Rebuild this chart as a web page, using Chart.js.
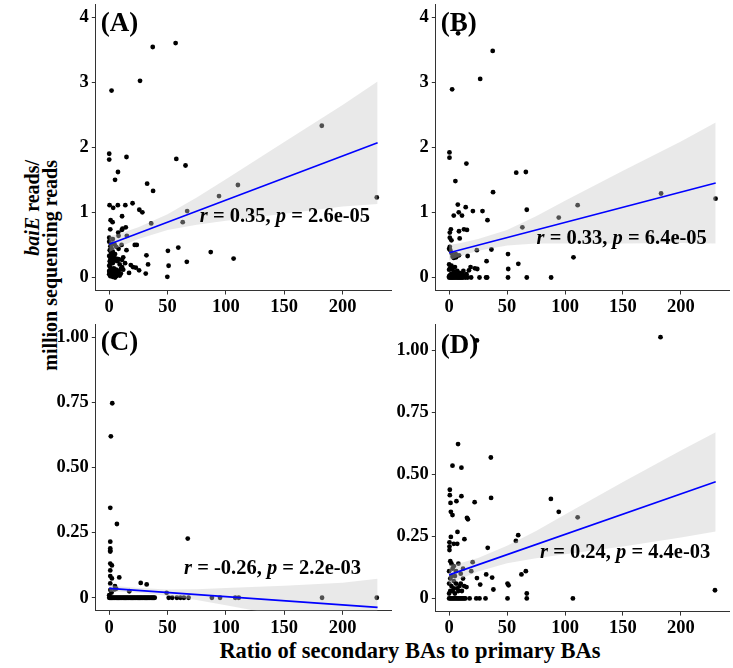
<!DOCTYPE html>
<html>
<head>
<meta charset="utf-8">
<script src="https://cdn.jsdelivr.net/npm/chart.js@4.4.0/dist/chart.umd.min.js"></script>
<style>
  html, body { margin: 0; padding: 0; background: #fff; overflow: hidden; }
  #wrap { position: relative; width: 733px; height: 668px; font-family: "Liberation Serif", "Times New Roman", serif; }
  canvas { position: absolute; }
  .ytitle { position: absolute; left: 23px; top: 420px; width: 260px; transform: rotate(-90deg); transform-origin: 0 0;
            text-align: right; font-weight: bold; font-size: 20px; line-height: 18px; white-space: nowrap; color: #000; }
  .xtitle { position: absolute; left: 110px; top: 638px; width: 600px; text-align: center; font-weight: bold;
            font-size: 22.5px; line-height: 26px; color: #000; }
</style>
</head>
<body>
<div id="wrap">
  <div class="ytitle"><i>baiE</i> reads/<br>million sequencing reads</div>
  <div class="xtitle">Ratio of secondary BAs to primary BAs</div>
  <canvas id="chartA" width="395" height="320" style="left:0;top:0"></canvas>
  <canvas id="chartB" width="338" height="320" style="left:395px;top:0"></canvas>
  <canvas id="chartC" width="395" height="348" style="left:0;top:320px"></canvas>
  <canvas id="chartD" width="338" height="348" style="left:395px;top:320px"></canvas>
</div>
<script>
// tick values and labels
const xTicks = [0, 50, 100, 150, 200];
const yTicksTop = [0, 1, 2, 3, 4];
const yLabelsTop = ['0', '1', '2', '3', '4'];
const yTicksBottom = [0, 0.25, 0.5, 0.75, 1];
const yLabelsBottom = ['0', '0.25', '0.50', '0.75', '1.00'];

// x positions where the confidence band edges were read
const bandX = [0, 10, 25, 50, 75, 100, 150, 200, 230];

// (A)
const pointsA = [
  [37.3, 3.54], [56.9, 3.60], [26.4, 3.02], [2.0, 2.87], [182.2, 2.33], [229.3, 1.23],
  [0, 1.90], [0, 1.81], [14.8, 1.85], [57.5, 1.82], [65.4, 1.72], [7.5, 1.62], [5.0, 1.50],
  [32.5, 1.44], [110.3, 1.42], [37.6, 1.33], [94.1, 1.25],
  [0.3, 1.11], [3.4, 1.07], [7.4, 1.11], [13.8, 1.11], [20, 1.14], [25.8, 1.04], [28.4, 1.00], [66.8, 1.02],
  [11, 0.94], [1.2, 0.88], [2.9, 0.85], [36, 0.83], [63, 0.85],
  [0.9, 0.74], [7.7, 0.69], [11.4, 0.75], [14.2, 0.77], [10.8, 0.73],
  [0, 0.61], [3.1, 0.59], [8, 0.64], [15.1, 0.64], [4.5, 0.51], [10.6, 0.50], [21.9, 0.50], [23.6, 0.50],
  [14.8, 0.42], [31.9, 0.34], [50.3, 0.41], [59.2, 0.46], [87, 0.39], [106.6, 0.29], [66.5, 0.24],
  [50.9, 0.18], [49.8, 0.01], [13.6, 0.22], [18.5, 0.19], [22.8, 0.15], [25.6, 0.11], [31.3, 0.06],
  [17, 0.07], [33.3, 0.20], [20.4, 0.16],
  [0, 0.55], [1, 0.48], [2, 0.45], [0.5, 0.42], [3, 0.52], [6, 0.47], [1.5, 0.38], [8, 0.44],
  [0, 0.33], [1, 0.30], [2, 0.28], [0.5, 0.25], [3, 0.22], [4, 0.31], [5, 0.26], [6, 0.29], [7, 0.25],
  [8, 0.28], [9, 0.20], [0, 0.18], [1, 0.15], [2, 0.12], [3, 0.10], [4, 0.14], [5, 0.08], [6, 0.12],
  [7, 0.05], [8, 0.10], [10, 0.13], [11, 0.27], [12, 0.31], [0, 0.05], [1, 0.02], [2, 0.04], [3, 0.01],
  [4, 0.03], [5, 0.0], [6, 0.02], [0, 0.10], [0.5, 0.08], [9, 0.03], [10, 0.06], [12, 0.12], [1, 0.21],
  [2, 0.36], [3, 0.40], [5, 0.36], [11, 0.16]
];
const fitA = [[0, 0.51], [230, 2.07]];
const upperA = [0.63, 0.68, 0.77, 0.97, 1.23, 1.51, 2.08, 2.65, 3.01];
const lowerA = [0.39, 0.48, 0.59, 0.73, 0.81, 0.87, 0.98, 1.09, 1.13];

// (B)
const pointsB = [
  [7.7, 3.75], [37.6, 3.48], [26.8, 3.05], [2.6, 2.89], [0.3, 1.92], [0.3, 1.84], [14.9, 1.75],
  [57.9, 1.61], [66.2, 1.62], [5.4, 1.48], [37.9, 1.31], [182.9, 1.29], [229.9, 1.21], [110.9, 1.11],
  [7.5, 1.12], [14.3, 1.08], [8.3, 1.00], [4.0, 0.95], [11.1, 0.95], [20.5, 1.02], [28.8, 1.02],
  [33.1, 0.88], [67, 1.04], [94.6, 0.92], [63.2, 0.77],
  [1.5, 0.74], [0.6, 0.69], [8.5, 0.71], [12.8, 0.74], [15.4, 0.73], [0.6, 0.61], [2, 0.57], [9.1, 0.60],
  [0.6, 0.47], [2.3, 0.37], [5.7, 0.36], [8.5, 0.34], [16, 0.33], [23.9, 0.42], [36.5, 0.43],
  [50.8, 0.36], [32.3, 0.25], [59.7, 0.21], [51, 0.13], [107.3, 0.31], [18.5, 0.16], [22.2, 0.14],
  [24.3, 0.13], [12.3, 0.10], [17.1, 0.11],
  [26.2, 0], [32.8, 0], [50.8, 0], [67, 0], [88, 0], [31.9, 0],
  [0, 0], [1, 0], [2, 0], [3, 0], [4, 0], [5, 0], [6, 0], [7, 0], [8, 0], [9, 0], [10, 0], [11, 0],
  [12, 0], [14, 0], [16, 0], [19, 0], [0, 0.02], [1, 0.04], [2, 0.06], [3, 0.03], [4, 0.08], [5, 0.05],
  [6, 0.02], [7, 0.10], [8, 0.04], [9, 0.07], [10, 0.03], [0, 0.12], [1, 0.15], [2, 0.18], [0, 0.20],
  [3, 0.13], [5, 0.16], [6, 0.09], [11, 0.06], [13, 0.03], [15, 0.05], [1, 0.42], [0, 0.44],
  [3, 0.32], [4, 0.30], [6, 0.31]
];
const fitB = [[0, 0.38], [230, 1.45]];
const upperB = [0.50, 0.53, 0.59, 0.73, 0.94, 1.18, 1.64, 2.09, 2.38];
const lowerB = [0.26, 0.33, 0.41, 0.49, 0.52, 0.52, 0.52, 0.53, 0.52];

// (C)
const pointsC = [
  [2.6, 0.746], [1.4, 0.619], [0.9, 0.345], [6.6, 0.283], [67.3, 0.227], [0.9, 0.215], [0.9, 0.189],
  [0.9, 0.181], [0.9, 0.177], [0.9, 0.131], [2.3, 0.124], [0.9, 0.105], [0.9, 0.083], [2.3, 0.074],
  [8.6, 0.078], [0.9, 0.055], [4.9, 0.045], [27, 0.057], [32.1, 0.051], [4.6, 0.032], [17.2, 0.025],
  [49.2, 0.019], [1, 0.03], [2, 0.02], [0, 0.01], [6, 0.035],
  [0, 0], [1, 0], [2, 0], [3, 0], [4, 0], [5, 0], [6, 0], [7, 0], [8, 0], [9, 0], [10, 0], [11, 0],
  [12, 0], [13, 0], [14, 0], [15, 0], [16, 0], [17, 0], [18, 0], [19, 0], [20, 0], [21, 0], [22, 0],
  [23, 0], [24, 0], [25, 0], [26, 0], [27, 0], [28, 0], [29, 0], [30, 0], [31, 0], [32, 0], [33, 0],
  [34, 0], [35, 0], [36, 0], [37, 0], [38, 0], [39, 0], [51, 0], [54, 0], [58, 0], [61, 0], [64, 0],
  [68, 0], [88, 0], [95, 0], [108, 0], [111, 0], [182.4, 0], [229.3, 0]
];
const fitC = [[0, 0.036], [230, -0.037]];
const upperC = [0.049, 0.043, 0.037, 0.032, 0.033, 0.037, 0.046, 0.058, 0.073];
const lowerC = [0.023, 0.023, 0.019, 0.008, -0.009, -0.029, -0.070, -0.112, -0.147];

// (D)
const pointsD = [
  [182.4, 1.053], [24, 1.04], [7.7, 0.622], [36, 0.568], [2.9, 0.535], [10.6, 0.527], [0.6, 0.438],
  [0.6, 0.416], [6.3, 0.392], [10.6, 0.412], [1.2, 0.385], [22, 0.388], [36.2, 0.405], [87.8, 0.401],
  [94.6, 0.349], [1.5, 0.349], [2.9, 0.336], [15.4, 0.325], [16.2, 0.319], [110.9, 0.327], [7.2, 0.268],
  [1.5, 0.248], [13.2, 0.239], [59.6, 0.255], [57.6, 0.232], [0.3, 0.226], [0.3, 0.209], [0.3, 0.195],
  [4, 0.22], [7, 0.22], [33.3, 0.204], [20.3, 0.146], [19.1, 0.110], [32, 0.097], [66.2, 0.110],
  [62.4, 0.097], [24, 0.082], [37.1, 0.084], [26.8, 0.056], [38.2, 0.036], [50.4, 0.060], [51.3, 0.053],
  [67, 0.020], [67, 0], [50.4, 0], [106.8, 0], [229.4, 0.033], [17.7, 0], [23.4, 0], [26.2, 0], [31.4, 0],
  [15, 0.046], [1, 0.15], [2, 0.14], [3, 0.12], [4, 0.13], [6, 0.11], [8, 0.14], [10, 0.10], [12, 0.12],
  [5, 0.09], [0, 0], [1, 0], [2, 0], [3, 0], [4, 0], [5, 0], [6, 0], [7, 0], [8, 0], [9, 0], [10, 0],
  [11, 0], [12, 0], [13, 0], [14, 0], [0, 0.02], [1, 0.03], [2, 0.05], [3, 0.03], [4, 0.04], [5, 0.02],
  [6, 0.06], [7, 0.04], [8, 0.03], [9, 0.05], [10, 0.06], [11, 0.03], [12, 0.08], [0, 0.06], [1, 0.08],
  [2, 0.09], [0, 0.11], [4, 0.07], [13, 0.05]
];
const fitD = [[0, 0.095], [230, 0.47]];
const upperD = [0.135, 0.143, 0.163, 0.212, 0.272, 0.338, 0.469, 0.596, 0.67];
const lowerD = [0.055, 0.079, 0.109, 0.142, 0.162, 0.178, 0.209, 0.246, 0.27];

const serif = '"Liberation Serif", "Times New Roman", serif';

// panel letter + the r / p annotation (r and p in italics)
const panelText = {
  id: 'panelText',
  afterDatasetsDraw(chart, args, opts) {
    const ctx = chart.ctx;
    const area = chart.chartArea;
    ctx.save();
    ctx.fillStyle = '#000';
    ctx.textBaseline = 'middle';
    ctx.font = 'bold 27px ' + serif;
    ctx.fillText(opts.label, area.left + 5, area.top + opts.labelDy);

    const parts = [['r', true], [' = ' + opts.r + ', ', false], ['p', true], [' = ' + opts.p, false]];
    const fontFor = italic => (italic ? 'italic ' : '') + 'bold 20.5px ' + serif;
    let total = 0;
    parts.forEach(pt => { ctx.font = fontFor(pt[1]); total += ctx.measureText(pt[0]).width; });
    let x = chart.scales.x.getPixelForValue(opts.at[0]) - total / 2;
    const y = chart.scales.y.getPixelForValue(opts.at[1]);
    parts.forEach(pt => {
      ctx.font = fontFor(pt[1]);
      ctx.fillText(pt[0], x, y);
      x += ctx.measureText(pt[0]).width;
    });
    ctx.restore();
  }
};

function makePanel(id, cfg) {
  const box = cfg.box, area = cfg.area;
  const tickFont = { family: serif, weight: 'bold', size: 18.5 };
  const toXY = arr => arr.map(p => ({ x: p[0], y: p[1] }));

  new Chart(document.getElementById(id), {
    type: 'scatter',
    data: {
      datasets: [
        {
          type: 'line', data: toXY(cfg.fit), borderColor: '#0000ff', borderWidth: 1.6,
          pointRadius: 0, fill: false, tension: 0
        },
        {
          type: 'line', data: bandX.map((x, i) => ({ x: x, y: cfg.upper[i] })), borderWidth: 0,
          borderColor: 'rgba(0,0,0,0)', pointRadius: 0, fill: '+1', backgroundColor: 'rgba(200,200,200,0.4)', tension: 0
        },
        {
          type: 'line', data: bandX.map((x, i) => ({ x: x, y: cfg.lower[i] })), borderWidth: 0,
          borderColor: 'rgba(0,0,0,0)', pointRadius: 0, fill: false, tension: 0
        },
        {
          data: toXY(cfg.points), backgroundColor: '#000', borderWidth: 0, pointRadius: 2.4
        }
      ]
    },
    options: {
      responsive: false,
      animation: false,
      layout: { padding: { top: area.t - box.top, right: box.left + box.width - area.r, left: 0, bottom: 0 } },
      plugins: {
        legend: { display: false },
        tooltip: { enabled: false },
        panelText: { label: cfg.label, labelDy: cfg.labelDy, r: cfg.r, p: cfg.p, at: cfg.textAt }
      },
      scales: {
        x: {
          type: 'linear', min: -11.5, max: 241.5,
          afterBuildTicks: s => { s.ticks = xTicks.map(v => ({ value: v })); },
          afterFit: s => { s.height = box.top + box.height - area.b; s.paddingLeft = 0; s.paddingRight = 0; },
          grid: { drawOnChartArea: false, drawTicks: true, tickLength: 4, color: '#333' },
          border: { display: true, color: '#333', width: 1 },
          ticks: { font: tickFont, color: '#000', padding: 2, maxRotation: 0, autoSkip: false,
                   callback: (v, i) => String(xTicks[i]) }
        },
        y: {
          type: 'linear', min: cfg.yMin, max: cfg.yMax,
          afterBuildTicks: s => { s.ticks = cfg.yTicks.map(v => ({ value: v })); },
          afterFit: s => { s.width = area.l - box.left; s.paddingTop = 0; s.paddingBottom = 0; },
          grid: { drawOnChartArea: false, drawTicks: true, tickLength: 4, color: '#333' },
          border: { display: true, color: '#333', width: 1 },
          ticks: { font: tickFont, color: '#000', padding: 3, autoSkip: false,
                   callback: (v, i) => cfg.yLabels[i] }
        }
      }
    },
    plugins: [panelText]
  });
}

makePanel('chartA', {
  points: pointsA, fit: fitA, upper: upperA, lower: lowerA,
  yMin: -0.2, yMax: 4.2, yTicks: yTicksTop, yLabels: yLabelsTop,
  label: '(A)', labelDy: 20, r: '0.35', p: '2.6e-05', textAt: [150.6, 0.93],
  box: { left: 0, top: 0, width: 395, height: 320 }, area: { l: 95.8, t: 1, r: 391.8, b: 290.5 }
});
makePanel('chartB', {
  points: pointsB, fit: fitB, upper: upperB, lower: lowerB,
  yMin: -0.2, yMax: 4.2, yTicks: yTicksTop, yLabels: yLabelsTop,
  label: '(B)', labelDy: 20, r: '0.33', p: '6.4e-05', textAt: [148.9, 0.60],
  box: { left: 395, top: 0, width: 338, height: 320 }, area: { l: 435.8, t: 1, r: 731.8, b: 290.5 }
});
makePanel('chartC', {
  points: pointsC, fit: fitC, upper: upperC, lower: lowerC,
  yMin: -0.05, yMax: 1.05, yTicks: yTicksBottom, yLabels: yLabelsBottom,
  label: '(C)', labelDy: 19, r: '-0.26', p: '2.2e-03', textAt: [140, 0.113],
  box: { left: 0, top: 320, width: 395, height: 348 }, area: { l: 95.8, t: 322, r: 391.8, b: 610.8 }
});
makePanel('chartD', {
  points: pointsD, fit: fitD, upper: upperD, lower: lowerD,
  yMin: -0.053, yMax: 1.106, yTicks: yTicksBottom, yLabels: yLabelsBottom,
  label: '(D)', labelDy: 22, r: '0.24', p: '4.4e-03', textAt: [151.9, 0.186],
  box: { left: 395, top: 320, width: 338, height: 348 }, area: { l: 435.8, t: 320.7, r: 731.8, b: 611.6 }
});
</script>
</body>
</html>
